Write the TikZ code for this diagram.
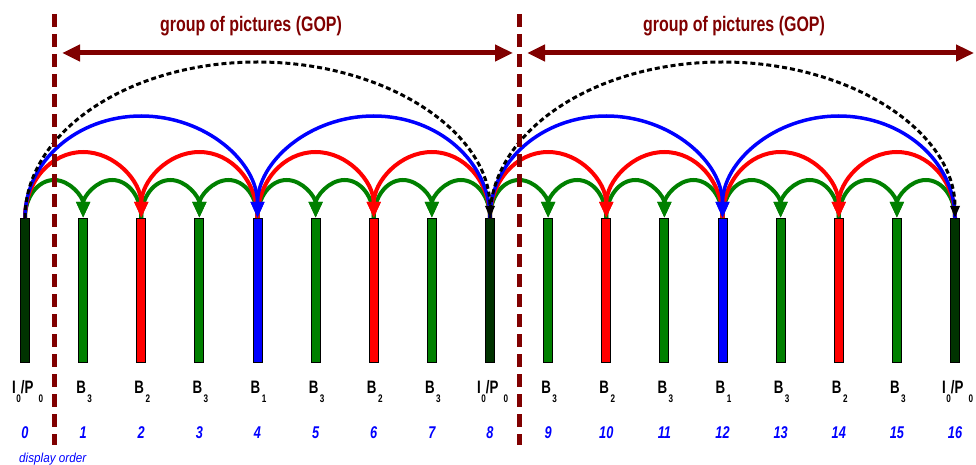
\documentclass[tikz,border=0pt]{standalone}
\usepackage{fontspec}
\setmainfont{Liberation Sans}
\newfontfamily\gopfont[FakeStretch=0.76]{Liberation Sans}
\newfontfamily\lblfont[FakeStretch=0.74]{Liberation Sans}
\newfontfamily\numfont[FakeStretch=0.75]{Liberation Sans}
\newfontfamily\dispfont[FakeStretch=0.9]{Liberation Sans}
\usetikzlibrary{arrows.meta}
\definecolor{dred}{RGB}{128,0,0}
\definecolor{ipc}{RGB}{0,51,0}
\definecolor{gc}{RGB}{0,128,0}
\definecolor{rc}{RGB}{255,0,0}
\definecolor{bc}{RGB}{0,0,255}
\newcommand\sbs[1]{\raisebox{-9pt}{\fontsize{11}{11}\selectfont #1}}
\newcommand\arcright[4]{\draw[#1] (f#2.north) arc[start angle=180,end angle=0,x radius=#3,y radius=#4];}
\newcommand\arcleft[4]{\draw[#1] (f#2.north) arc[start angle=0,end angle=180,x radius=#3,y radius=#4];}
\begin{document}
\begin{tikzpicture}[x=1pt,y=1pt,
  framebar/.style={draw=black,line width=0.8pt,minimum width=9pt,minimum height=144pt,inner sep=0pt,anchor=north},
  lbl/.style={font=\fontsize{18}{18}\lblfont\bfseries,text=black,inner sep=0pt,anchor=base west},
  num/.style={font=\fontsize{17}{17}\numfont\bfseries\itshape,text=bc,inner sep=0pt,anchor=base},
  garc/.style={draw=gc,line width=4pt,-{Triangle[length=16pt,width=13pt]}},
  rarc/.style={draw=rc,line width=4pt,-{Triangle[length=16pt,width=13pt]}},
  barc/.style={draw=bc,line width=3.5pt,-{Triangle[length=16pt,width=13pt]}},
  karc/.style={draw=black,line width=3pt,dash pattern=on 5pt off 3pt,-{Triangle[length=12pt,width=9pt]}},
  vdash/.style={draw=dred,line width=4.5pt,dash pattern=on 13pt off 7pt},
  goparrow/.style={draw=dred,line width=5pt,{Triangle[length=18pt,width=16pt]}-{Triangle[length=18pt,width=16pt]}},
  goptxt/.style={font=\fontsize{21}{21}\gopfont\bfseries,text=dred,inner sep=0pt,anchor=base}
]
\useasboundingbox (0,0) rectangle (976,464);
% frames
\foreach \i/\c/\s in {0/ipc/0,1/gc/3,2/rc/2,3/gc/3,4/bc/1,5/gc/3,6/rc/2,7/gc/3,8/ipc/0,
                      9/gc/3,10/rc/2,11/gc/3,12/bc/1,13/gc/3,14/rc/2,15/gc/3,16/ipc/0} {
  \node[framebar,fill=\c] (f\i) at ({25+58.125*\i},246) {};
  \ifnum\s=0
    \node[lbl] (l\i) at ({25+58.125*\i-13},71) {I\kern0.5pt\sbs{0}/P\kern5pt\sbs{0}};
  \else
    \node[lbl] (l\i) at ({25+58.125*\i-7},71) {B\kern1.5pt\sbs{\s}};
  \fi
  \node[num] (n\i) at ({25+58.125*\i},26) {\i};
}
% green arcs
\foreach \b in {0,8} {
  \foreach \k in {0,2,4,6} {
    \pgfmathtruncatemacro\p{\b+\k}
    \pgfmathtruncatemacro\q{\b+\k+2}
    \arcright{garc}{\p}{29.0625}{38}
    \arcleft{garc}{\q}{29.0625}{38}
  }
}
% red arcs
\foreach \b in {0,8} {
  \foreach \k in {0,4} {
    \pgfmathtruncatemacro\p{\b+\k}
    \pgfmathtruncatemacro\q{\b+\k+4}
    \arcright{rarc}{\p}{58.125}{66}
    \arcleft{rarc}{\q}{58.125}{66}
  }
}
% blue arcs
\foreach \b in {0,8} {
  \pgfmathtruncatemacro\q{\b+8}
  \arcright{barc}{\b}{116.25}{102}
  \arcleft{barc}{\q}{116.25}{102}
}
% black dashed arcs
\arcright{karc}{0}{232.5}{156}
\arcright{karc}{8}{232.5}{156}
% GOP separators
\coordinate (s1t) at (54.5,450); \coordinate (s1b) at (54.5,19);
\coordinate (s2t) at (519.5,450); \coordinate (s2b) at (519.5,19);
\draw[vdash] (s1t) -- (s1b);
\draw[vdash] (s2t) -- (s2b);
% GOP arrows
\coordinate (g1a) at (62,411); \coordinate (g1b) at (513,411);
\coordinate (g2a) at (527,411); \coordinate (g2b) at (974,411);
\draw[goparrow] (g1a) -- (g1b);
\draw[goparrow] (g2a) -- (g2b);
\node[goptxt] (t1) at (251,432) {group of pictures (GOP)};
\node[goptxt] (t2) at (734,432) {group of pictures (GOP)};
\node[font=\fontsize{13}{13}\dispfont\itshape,text=bc,inner sep=0pt,anchor=base west] (disp) at (19,2) {display order};
\end{tikzpicture}
\end{document}
